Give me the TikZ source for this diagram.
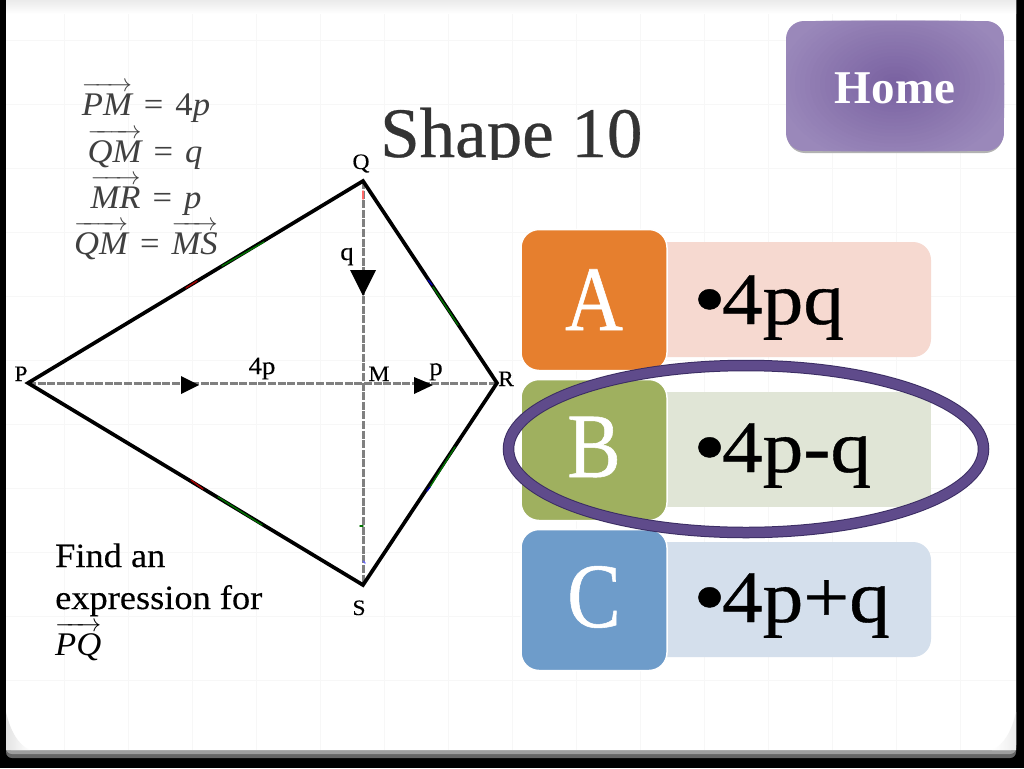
\documentclass[tikz,border=0pt]{standalone}
\usepackage{fontspec}
\setmainfont{Liberation Serif}
\newfontfamily\widefam{Liberation Serif}[FakeStretch=1.07,FakeBold=0.25]
\newfontfamily\answerfam{Liberation Serif}[FakeStretch=1.1,FakeBold=0.5]
\newfontfamily\letterfam{Liberation Serif}[FakeStretch=0.87,FakeBold=0.6]
\newfontfamily\titlefam{Liberation Serif}[FakeBold=0.4]
\newfontfamily\eqfam{Liberation Serif}[FakeStretch=1.05]
\usetikzlibrary{shapes.geometric,calc}
\definecolor{inkgray}{HTML}{404040}
\definecolor{dashgray}{HTML}{808080}
\definecolor{ovalpurple}{HTML}{5F4B8B}
\definecolor{ovaldark}{HTML}{3B2D63}
\definecolor{HomeIn}{HTML}{7860A0}
\definecolor{HomeOut}{HTML}{9A88BA}
\definecolor{BarA}{HTML}{F6D9D0}
\definecolor{BarB}{HTML}{E0E5D6}
\definecolor{BarC}{HTML}{D4DFEC}
\definecolor{TabA}{HTML}{E67F2E}
\definecolor{TabB}{HTML}{9FB05F}
\definecolor{TabC}{HTML}{6E9CCA}
\newcommand{\fs}[1]{\fontsize{#1}{#1}\selectfont}
\newcommand{\vect}[1]{\ensuremath{\overrightarrow{\rule{0pt}{25pt}\textit{#1}}}}
\newcommand{\eqsign}{\hspace{12pt}=\hspace{12pt}}
\newcommand{\bigdot}{\raisebox{-3.5pt}{\fs{85}•}\hspace{-4pt}}
\tikzset{
  x=1pt,y=-1pt,
  lbl/.style={inner sep=0pt,font=\widefam\fs{22},text=black,anchor=base},
  eqn/.style={inner sep=0pt,font=\eqfam\fs{33},text=inkgray,anchor=base},
  letterbox/.style={draw=white,line width=1.5pt,rounded corners=18pt},
  bigletter/.style={inner sep=0pt,font=\letterfam\fs{92},text=white,anchor=base},
  answer/.style={inner sep=0pt,font=\answerfam\fs{74},text=black,anchor=base west},
  kite/.style={draw=black,line width=3.7pt,line join=miter},
  diag/.style={draw=dashgray,line width=3pt,dash pattern=on 8pt off 1.6pt},
  headtip/.style={fill=black,draw=none},
  tick/.style={line width=1.4pt,line cap=round},
  question/.style={inner sep=0pt,font=\widefam\fs{34},text=black,anchor=base west}
}
\begin{document}
\begin{tikzpicture}
\useasboundingbox (0,0) rectangle (1024,768);
% slide frame
\fill[black] (0,0) rectangle (1024,768);
\fill[black!60,rounded corners=6pt] (6,-10) rectangle (1016,758);
\fill[black!38,rounded corners=6pt] (6,-10) rectangle (1016,754);
\fill[white,rounded corners=5pt] (6,-10) rectangle (1016,750);
% faint sheet grid
\foreach \gx in {64,128,...,960} \draw[black!3,line width=0.5pt] (\gx,0) -- (\gx,750);
\foreach \gy in {40,104,...,740} \draw[black!3,line width=0.5pt] (6,\gy) -- (1016,\gy);
% shaded corners
\shade[left color=black!11,right color=white] (6,712) .. controls (10,730) and (18,745) .. (30,750) -- (6,750) -- cycle;
\shade[right color=black!7,left color=white] (1016,712) .. controls (1012,730) and (1004,745) .. (992,750) -- (1016,750) -- cycle;
\shade[top color=black!8,bottom color=white] (6,0) rectangle (1016,14);
% home button
\fill[black!30,rounded corners=18pt] (787,23) rectangle (1003,153);
\begin{scope}
\clip[rounded corners=18pt] (786,21) rectangle (1004,151);
\fill[HomeOut] (786,21) rectangle (1004,151);
\foreach \stepk in {24,23,...,1} {
  \pgfmathsetmacro{\mixk}{100-\stepk*100/24}
  \fill[HomeIn!\mixk!HomeOut] (895,84) ellipse ({\stepk*5} and {\stepk*3.5});
}
\end{scope}
\node[inner sep=0pt,font=\fs{47}\bfseries,text=white,anchor=base] (hometxt) at (895,103) {Home};
% title
\begin{scope}
\clip (370,90) rectangle (670,159);
\node[inner sep=0pt,font=\titlefam\fs{71},text=black!80,anchor=base west] (title) at (380,157) {Shape 10};
\end{scope}
% kite
\coordinate (P) at (28,383);
\coordinate (Q) at (363,181);
\coordinate (R) at (497,383);
\coordinate (S) at (363,585);
\coordinate (M) at (363,383);
\draw[diag] (P) -- (R);
\draw[diag] (Q) -- (S);
\draw[kite] (P) -- (Q) -- (R) -- (S) -- cycle;
% coloured traces along the sides
\draw[tick,draw=red!65!black] (186,288) -- (197,281);
\draw[tick,draw=green!45!black] (222,266) -- (264,242);
\draw[tick,draw=blue!70!black] (428,280) -- (432,285);
\draw[tick,draw=green!45!black] (433,287) -- (458,325);
\draw[tick,draw=green!45!black] (430,487) -- (455,447);
\draw[tick,draw=blue!70!black] (427,491) -- (430,487);
\draw[tick,draw=red!65!black] (191,480) -- (203,489);
\draw[tick,draw=green!45!black] (218,497) -- (262,525);
\draw[tick,draw=red!60] (363,191) -- (363,199);
\draw[tick,draw=green!45!black] (360,526) -- (363,526);
\draw[tick,draw=blue!60] (363,561) -- (365,563);
% arrowheads on diagonals
\fill[headtip] (181,376) -- (199,385) -- (181,394) -- cycle;
\fill[headtip] (414,377) -- (433,385) -- (414,394) -- cycle;
\fill[headtip] (350,270) -- (376,270) -- (363,296) -- cycle;
% vertex labels
\node[lbl] (lP) at (21,381) {P};
\node[lbl] (lQ) at (361,169) {Q};
\node[lbl] (lR) at (506,386) {R};
\node[lbl] (lS) at (359,615) {S};
\node[lbl] (lM) at (379,381) {M};
\node[lbl,font=\widefam\fs{25}] (l4p) at (262,374) {4p};
\node[lbl,font=\widefam\fs{25}] (lp) at (436,375) {p};
\node[lbl,font=\widefam\fs{25}] (lq) at (347,260) {q};
% equations
\node[eqn] (e1) at (146,115) {\vect{PM}\eqsign4\textit{p}};
\node[eqn] (e2) at (145,162) {\vect{QM}\eqsign\textit{q}};
\node[eqn] (e3) at (146,208) {\vect{MR}\eqsign\textit{p}};
\node[eqn] (e4) at (146,254) {\vect{QM}\eqsign\vect{MS}};
% question
\node[question] (f1) at (55,567) {Find an};
\node[question] (f2) at (55,609) {expression for};
\node[eqn,anchor=base west,text=black] (f3) at (55,655) {\vect{PQ}};
% answer bars
\fill[fill=BarA,rounded corners=18pt] (640,242) rectangle (931,357);
\fill[fill=BarB] (640,392) rectangle (931,507);
\fill[fill=BarC,rounded corners=18pt] (640,542) rectangle (931,657);
\draw[letterbox,fill=TabA] (521,229.5) rectangle (667,370.5);
\draw[letterbox,fill=TabB] (521,379.5) rectangle (667,520.5);
\draw[letterbox,fill=TabC] (521,529.5) rectangle (667,670.5);
\node[bigletter] (la) at (594,330) {A};
\node[bigletter] (lb) at (594,477) {B};
\node[bigletter] (lc) at (594,627) {C};
\node[answer] (aa) at (693,324) {\bigdot 4pq};
\node[answer] (ab) at (693,472) {\bigdot 4p-q};
\node[answer] (ac) at (693,622) {\bigdot 4p+q};
% answer ring
\node[ellipse,draw=ovaldark,line width=11.5pt,minimum width=475pt,minimum height=167pt,inner sep=0pt] (ringa) at (746,449) {};
\node[ellipse,draw=ovalpurple,line width=9.5pt,minimum width=475pt,minimum height=167pt,inner sep=0pt] (ringb) at (746,449) {};
\end{tikzpicture}
\end{document}
